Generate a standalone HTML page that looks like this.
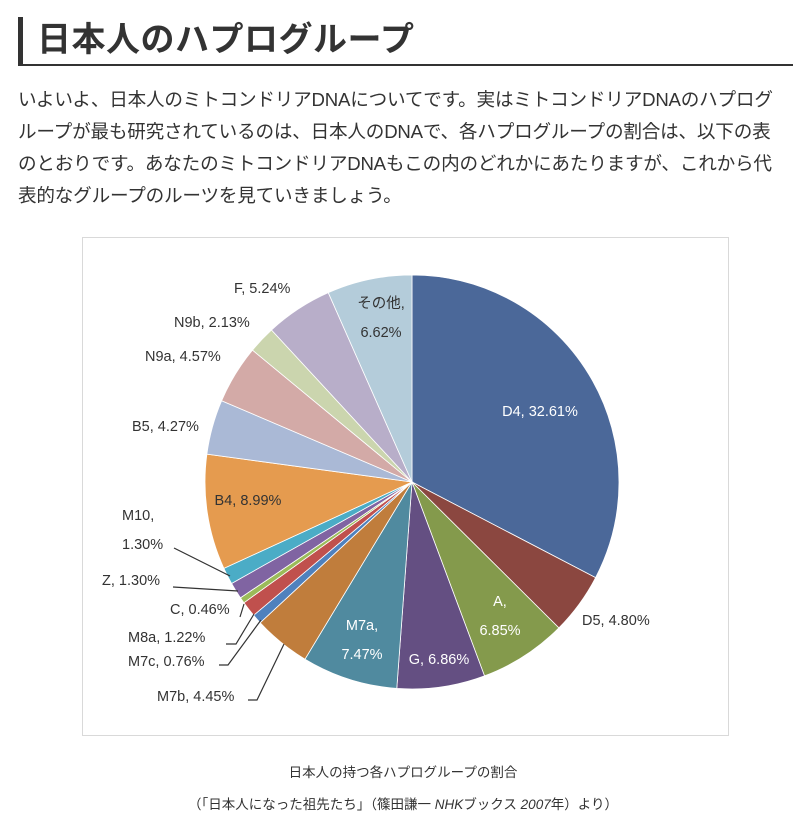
<!DOCTYPE html>
<html><head><meta charset="utf-8">
<style>
body{margin:0;background:#fff;width:806px;height:825px;overflow:hidden;font-family:"Liberation Sans","Noto Sans CJK JP",sans-serif;color:#333;position:relative}
#h{position:absolute;left:18px;top:17px;width:775px;height:49px;border-left:5px solid #333;border-bottom:2px solid #333;box-sizing:border-box}
#h span{position:absolute;left:14px;top:0px;font-size:34px;font-weight:bold;line-height:46px;color:#333;letter-spacing:0.5px}
#p{position:absolute;left:18px;top:84px;width:790px;font-size:18.6px;line-height:32px;color:#333;margin:0;white-space:nowrap;letter-spacing:-0.2px}
#box{position:absolute;left:82px;top:237px;width:647px;height:499px;border:1px solid #d9d9d9;box-sizing:border-box}
.cap{position:absolute;left:0;width:806px;text-align:center;font-size:13.5px;color:#333}
</style></head><body>
<div id="h"><span>日本人のハプログループ</span></div>
<p id="p">いよいよ、日本人のミトコンドリアDNAについてです。実はミトコンドリアDNAのハプログ<br>ループが最も研究されているのは、日本人のDNAで、各ハプログループの割合は、以下の表<br>のとおりです。あなたのミトコンドリアDNAもこの内のどれかにあたりますが、これから代<br>表的なグループのルーツを見ていきましょう。</p>
<div id="box"></div>
<svg id="chart" width="806" height="825" style="position:absolute;left:0;top:0" font-family="Liberation Sans, Noto Sans CJK JP, sans-serif" font-size="14.5"></svg>
<div class="cap" style="top:761px">日本人の持つ各ハプログループの割合</div>
<div class="cap" style="top:793px">（「日本人になった祖先たち」（篠田謙一 <i>NHK</i>ブックス <i>2007</i>年）より）</div>
<script>
const categories=["D4","D5","A","G","M7a","M7b","M7c","M8a","C","Z","M10","B4","B5","N9a","N9b","F","その他"];
const values=[32.61,4.80,6.85,6.86,7.47,4.45,0.76,1.22,0.46,1.30,1.30,8.99,4.27,4.57,2.13,5.24,6.62];
const valueLabels=["32.61%","4.80%","6.85%","6.86%","7.47%","4.45%","0.76%","1.22%","0.46%","1.30%","1.30%","8.99%","4.27%","4.57%","2.13%","5.24%","6.62%"];
const colors=["#4b6899","#8b4740","#849a4c","#644f82","#508a9f","#c07d3c","#4f81bd","#c0504d","#9bbb59","#8064a2","#4bacc6","#e59b4f","#aab9d6","#d3aaa7","#cbd5ae","#b8aec9","#b4ccda"];
// label layouts: [x, y, anchor, inside, twoLine, leader polyline or null]
const layout=[
 [540,416,"middle",1,0,null],[582,625,"start",0,0,null],[500,606,"middle",1,1,null],[439,664,"middle",1,0,null],
 [362,630,"middle",1,1,null],[157,701,"start",0,0,[[248,700],[257,700],[284,644]]],
 [128,666,"start",0,0,[[219,665],[228,665],[261,620]]],[128,642,"start",0,0,[[226,644],[236,644],[254,614]]],
 [170,614,"start",0,0,[[240,617],[244,604]]],[102,585,"start",0,0,[[173,587],[238,591]]],
 [122,520,"start",0,1,[[174,548],[230,576]]],[248,505,"middle",1,0,null],[132,431,"start",0,0,null],
 [145,361,"start",0,0,null],[174,327,"start",0,0,null],[234,293,"start",0,0,null],[381,308,"middle",1,1,null]];
const cx=412,cy=482,r=207;
const svg=document.getElementById('chart');
const NS="http://www.w3.org/2000/svg";
const total=values.reduce((a,b)=>a+b,0);
function pt(a,rr){return [cx+rr*Math.sin(a),cy-rr*Math.cos(a)];}
let acc=0;
values.forEach((v,i)=>{
 const a0=acc/total*2*Math.PI;acc+=v;const a1=acc/total*2*Math.PI;
 const p0=pt(a0,r),p1=pt(a1,r);
 const path=document.createElementNS(NS,'path');
 path.setAttribute('d',`M${cx},${cy}L${p0[0]},${p0[1]}A${r},${r} 0 ${a1-a0>Math.PI?1:0} 1 ${p1[0]},${p1[1]}Z`);
 path.setAttribute('fill',colors[i]);path.setAttribute('stroke','#fff');path.setAttribute('stroke-width','0.8');
 
 
 svg.appendChild(path);
});
layout.forEach((L,i)=>{
 const [x,y,anc,inside,two,lead]=L;
 const fill=inside&&i!==16&&i!==11?"#fff":"#333";
 if(lead){const pl=document.createElementNS(NS,'polyline');
  pl.setAttribute('points',lead.map(p=>p.join(',')).join(' '));
  pl.setAttribute('fill','none');pl.setAttribute('stroke','#333');pl.setAttribute('stroke-width','1.2');
  
  
  svg.appendChild(pl);}
 const t=document.createElementNS(NS,'text');
 t.setAttribute('text-anchor',anc);t.setAttribute('fill',fill);
 
 
 if(two){
  const s1=document.createElementNS(NS,'tspan');s1.setAttribute('x',x);s1.setAttribute('y',y);s1.textContent=categories[i]+",";
  const s2=document.createElementNS(NS,'tspan');s2.setAttribute('x',x);s2.setAttribute('y',y+29);s2.textContent=valueLabels[i];
  t.appendChild(s1);t.appendChild(s2);
 } else {t.setAttribute('x',x);t.setAttribute('y',y);t.textContent=categories[i]+", "+valueLabels[i];}
 svg.appendChild(t);
});
</script>
</body></html>
